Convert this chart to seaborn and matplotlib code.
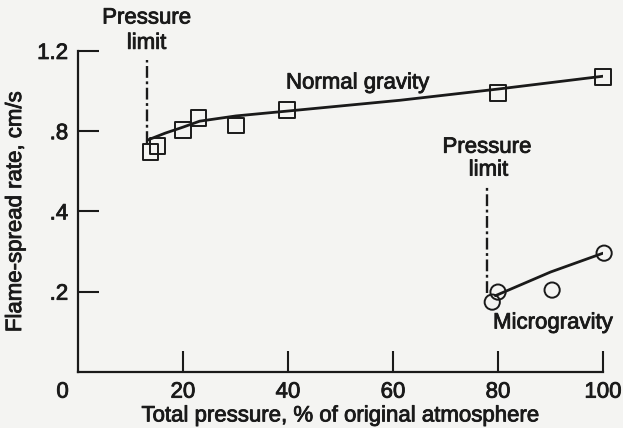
import matplotlib
matplotlib.use("Agg")
import matplotlib.pyplot as plt
import matplotlib.patheffects as pe
import seaborn as sns
import pandas as pd

# data (y in axis units, ticks are labelled oddly)
normal_p = [13.9, 15.2, 20.0, 22.9, 30.1, 39.8, 80.0, 100.0]
normal_rate = [0.548, 0.563, 0.603, 0.633, 0.615, 0.653, 0.695, 0.735]
normal_fit_p = [13.3, 16.6, 20.0, 23.2, 30.1, 39.8, 61.3, 80.0, 100.0]
normal_fit_rate = [0.578, 0.595, 0.610, 0.625, 0.638, 0.650, 0.677, 0.705, 0.737]

micro_p = [78.9, 80.0, 90.3, 100.2]
micro_rate = [0.174, 0.199, 0.204, 0.296]
micro_fit_p = [79.5, 90.0, 100.0]
micro_fit_rate = [0.19, 0.249, 0.296]

limit_normal = 13.1
limit_micro = 77.9

xticks = [20, 40, 60, 80, 100]
yticks = [0.2, 0.4, 0.6, 0.8]
ytick_labels = ['.2', '.4', '.8', '1.2']

sns.set_style('ticks')
plt.rcParams['font.family'] = ['Liberation Sans', 'DejaVu Sans']
bg = '#f4f4f2'
ink = '#1a1a1a'
fs = 16
heavy = [pe.withStroke(linewidth=0.6, foreground=ink)]

fig, ax = plt.subplots(figsize=(6.23, 4.28), dpi=100)
fig.patch.set_facecolor(bg)
ax.set_facecolor(bg)
fig.subplots_adjust(left=0.125, right=0.968, top=0.881, bottom=0.131)

normal = pd.DataFrame({'p': normal_p, 'rate': normal_rate})
normal_fit = pd.DataFrame({'p': normal_fit_p, 'rate': normal_fit_rate})
micro = pd.DataFrame({'p': micro_p, 'rate': micro_rate})
micro_fit = pd.DataFrame({'p': micro_fit_p, 'rate': micro_fit_rate})

sns.lineplot(data=normal_fit, x='p', y='rate', color=ink, lw=2, ax=ax)
sns.lineplot(data=micro_fit, x='p', y='rate', color=ink, lw=2, ax=ax)
sns.scatterplot(data=normal, x='p', y='rate', marker='s', s=120, clip_on=False,
                facecolors='none', edgecolor=ink, linewidth=1.4, ax=ax, zorder=3)
sns.scatterplot(data=micro, x='p', y='rate', marker='o', s=120, clip_on=False,
                facecolors='none', edgecolor=ink, linewidth=1.4, ax=ax, zorder=3)

# pressure limits
dashdot = (0, (5, 1.5, 1.2, 1.5))
ax.plot([limit_normal, limit_normal], [0.57, 0.777], color=ink, lw=1.7, ls=dashdot)
ax.plot([limit_micro, limit_micro], [0.197, 0.466], color=ink, lw=1.7, ls=dashdot)
txt = dict(ha='center', va='center', fontsize=fs, color=ink, clip_on=False,
           path_effects=heavy)
ax.text(limit_normal, 0.882, 'Pressure', **txt)
ax.text(limit_normal, 0.819, 'limit', **txt)
ax.text(limit_micro, 0.560, 'Pressure', **txt)
ax.text(limit_micro + 0.3, 0.503, 'limit', **txt)
ax.text(53.3, 0.720, 'Normal gravity', **txt)
ax.text(90.5, 0.122, 'Microgravity', **txt)

ax.set_xlim(0, 100)
ax.set_ylim(0, 0.8)
ax.set_xticks(xticks)
ax.set_xticklabels([str(t) for t in xticks])
ax.set_yticks(yticks)
ax.set_yticklabels(ytick_labels)
ax.annotate('0', xy=(0, 0), xytext=(-11, -7), textcoords='offset points',
            ha='center', va='top', fontsize=fs, color=ink, annotation_clip=False,
            path_effects=heavy)
ax.tick_params(axis='both', direction='in', length=15, width=1.5,
               labelsize=fs, pad=7, color=ink, labelcolor=ink)
for lab in ax.get_xticklabels() + ax.get_yticklabels():
    lab.set_path_effects(heavy)
ax.set_xlabel('Total pressure, % of original atmosphere', fontsize=fs,
              color=ink, labelpad=2, path_effects=heavy)
ax.set_ylabel('Flame-spread rate, cm/s', fontsize=fs, color=ink, labelpad=8,
              path_effects=heavy)
sns.despine(ax=ax)
for s in ['left', 'bottom']:
    ax.spines[s].set_linewidth(1.6)
    ax.spines[s].set_color(ink)

fig.savefig('out.png', dpi=100, facecolor=bg)
